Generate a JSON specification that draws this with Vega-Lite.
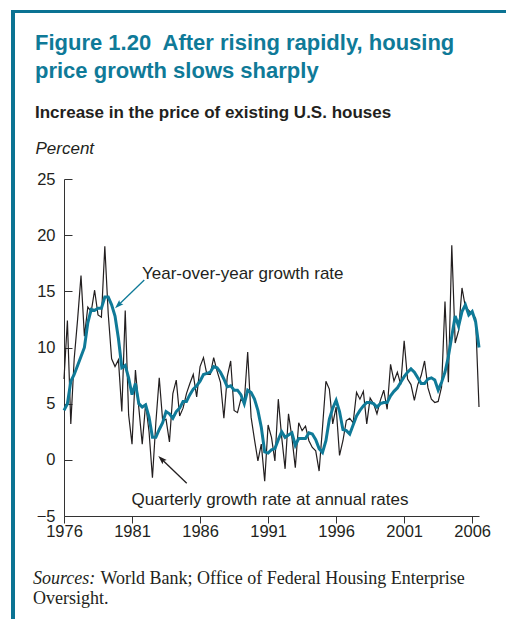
{
  "$schema": "https://vega.github.io/schema/vega-lite/v6.json",
  "padding": {"left": 11, "top": 10, "right": 0, "bottom": 0},
  "background": "white",
  "spacing": 0,
  "config": {
    "view": {"stroke": null},
    "font": "Liberation Sans",
    "axis": {"grid": false, "labelFont": "Liberation Sans", "labelFontSize": 16.5, "labelColor": "#231f20", "domainColor": "#333333", "tickColor": "#333333", "labelFlush": false, "labelOverlap": false}
  },
  "datasets": {
    "prices": [
      {"year": 1976, "q": 7.2, "yoy": 4.4},
      {"year": 1976.25, "q": 12.4, "yoy": 5.0},
      {"year": 1976.5, "q": 3.2, "yoy": 7.0},
      {"year": 1976.75, "q": 9.0, "yoy": 7.6},
      {"year": 1977, "q": 12.5, "yoy": 8.4},
      {"year": 1977.25, "q": 16.4, "yoy": 9.2},
      {"year": 1977.5, "q": 11.0, "yoy": 10.0},
      {"year": 1977.75, "q": 13.6, "yoy": 12.2},
      {"year": 1978, "q": 13.2, "yoy": 13.4},
      {"year": 1978.25, "q": 15.1, "yoy": 13.3},
      {"year": 1978.5, "q": 12.9, "yoy": 13.5},
      {"year": 1978.75, "q": 12.7, "yoy": 13.5},
      {"year": 1979, "q": 19.0, "yoy": 14.5},
      {"year": 1979.25, "q": 13.0, "yoy": 14.5},
      {"year": 1979.5, "q": 9.0, "yoy": 13.8},
      {"year": 1979.75, "q": 8.3, "yoy": 12.8},
      {"year": 1980, "q": 8.9, "yoy": 10.8},
      {"year": 1980.25, "q": 4.3, "yoy": 8.2},
      {"year": 1980.5, "q": 13.3, "yoy": 8.4},
      {"year": 1980.75, "q": 4.0, "yoy": 7.3},
      {"year": 1981, "q": 1.4, "yoy": 5.8},
      {"year": 1981.25, "q": 8.0, "yoy": 6.8},
      {"year": 1981.5, "q": 4.6, "yoy": 5.0},
      {"year": 1981.75, "q": 1.4, "yoy": 4.7},
      {"year": 1982, "q": 5.0, "yoy": 4.9},
      {"year": 1982.25, "q": 2.5, "yoy": 3.8},
      {"year": 1982.5, "q": -1.6, "yoy": 2.0},
      {"year": 1982.75, "q": 3.3, "yoy": 2.0},
      {"year": 1983, "q": 7.3, "yoy": 2.7},
      {"year": 1983.25, "q": 3.5, "yoy": 3.3},
      {"year": 1983.5, "q": 3.6, "yoy": 4.3},
      {"year": 1983.75, "q": 1.6, "yoy": 4.1},
      {"year": 1984, "q": 5.9, "yoy": 3.7},
      {"year": 1984.25, "q": 7.1, "yoy": 4.3},
      {"year": 1984.5, "q": 3.9, "yoy": 4.6},
      {"year": 1984.75, "q": 4.6, "yoy": 5.2},
      {"year": 1985, "q": 5.9, "yoy": 5.2},
      {"year": 1985.25, "q": 6.8, "yoy": 5.8},
      {"year": 1985.5, "q": 7.6, "yoy": 6.3},
      {"year": 1985.75, "q": 5.6, "yoy": 6.6},
      {"year": 1986, "q": 8.3, "yoy": 7.0},
      {"year": 1986.25, "q": 9.1, "yoy": 7.6},
      {"year": 1986.5, "q": 7.6, "yoy": 7.7},
      {"year": 1986.75, "q": 7.6, "yoy": 7.8},
      {"year": 1987, "q": 9.1, "yoy": 8.3},
      {"year": 1987.25, "q": 7.9, "yoy": 8.2},
      {"year": 1987.5, "q": 6.9, "yoy": 7.8},
      {"year": 1987.75, "q": 3.7, "yoy": 7.2},
      {"year": 1988, "q": 7.4, "yoy": 6.5},
      {"year": 1988.25, "q": 8.8, "yoy": 6.6},
      {"year": 1988.5, "q": 4.4, "yoy": 6.2},
      {"year": 1988.75, "q": 4.2, "yoy": 6.2},
      {"year": 1989, "q": 5.4, "yoy": 5.8},
      {"year": 1989.25, "q": 5.2, "yoy": 5.0},
      {"year": 1989.5, "q": 9.6, "yoy": 6.2},
      {"year": 1989.75, "q": 3.8, "yoy": 6.0},
      {"year": 1990, "q": 1.8, "yoy": 5.4},
      {"year": 1990.25, "q": -0.1, "yoy": 4.4},
      {"year": 1990.5, "q": 1.4, "yoy": 2.9},
      {"year": 1990.75, "q": -1.9, "yoy": 0.7},
      {"year": 1991, "q": 3.1, "yoy": 0.6},
      {"year": 1991.25, "q": 2.0, "yoy": 0.9},
      {"year": 1991.5, "q": -0.1, "yoy": 1.0},
      {"year": 1991.75, "q": 5.4, "yoy": 1.8},
      {"year": 1992, "q": 2.0, "yoy": 2.5},
      {"year": 1992.25, "q": -0.8, "yoy": 2.0},
      {"year": 1992.5, "q": 4.1, "yoy": 2.2},
      {"year": 1992.75, "q": 2.0, "yoy": 2.4},
      {"year": 1993, "q": -0.7, "yoy": 1.3},
      {"year": 1993.25, "q": 3.3, "yoy": 1.9},
      {"year": 1993.5, "q": 2.6, "yoy": 1.9},
      {"year": 1993.75, "q": 3.0, "yoy": 1.9},
      {"year": 1994, "q": 1.7, "yoy": 2.4},
      {"year": 1994.25, "q": 1.1, "yoy": 2.3},
      {"year": 1994.5, "q": 0.8, "yoy": 1.8},
      {"year": 1994.75, "q": -1.0, "yoy": 1.0},
      {"year": 1995, "q": 2.9, "yoy": 0.65},
      {"year": 1995.25, "q": 7.0, "yoy": 1.7},
      {"year": 1995.5, "q": 6.3, "yoy": 3.6},
      {"year": 1995.75, "q": 3.2, "yoy": 4.6},
      {"year": 1996, "q": 4.7, "yoy": 5.3},
      {"year": 1996.25, "q": 0.4, "yoy": 4.3},
      {"year": 1996.5, "q": 1.7, "yoy": 2.7},
      {"year": 1996.75, "q": 3.5, "yoy": 2.6},
      {"year": 1997, "q": 3.7, "yoy": 2.3},
      {"year": 1997.25, "q": 3.3, "yoy": 3.1},
      {"year": 1997.5, "q": 6.0, "yoy": 3.9},
      {"year": 1997.75, "q": 5.4, "yoy": 4.4},
      {"year": 1998, "q": 6.1, "yoy": 4.8},
      {"year": 1998.25, "q": 3.2, "yoy": 5.1},
      {"year": 1998.5, "q": 5.5, "yoy": 5.1},
      {"year": 1998.75, "q": 5.0, "yoy": 5.0},
      {"year": 1999, "q": 4.1, "yoy": 4.7},
      {"year": 1999.25, "q": 5.3, "yoy": 5.0},
      {"year": 1999.5, "q": 6.2, "yoy": 5.1},
      {"year": 1999.75, "q": 4.5, "yoy": 5.1},
      {"year": 2000, "q": 8.5, "yoy": 5.7},
      {"year": 2000.25, "q": 7.0, "yoy": 6.1},
      {"year": 2000.5, "q": 7.8, "yoy": 6.4},
      {"year": 2000.75, "q": 6.7, "yoy": 6.9},
      {"year": 2001, "q": 10.6, "yoy": 7.4},
      {"year": 2001.25, "q": 7.2, "yoy": 7.8},
      {"year": 2001.5, "q": 6.7, "yoy": 8.1},
      {"year": 2001.75, "q": 5.3, "yoy": 7.8},
      {"year": 2002, "q": 6.7, "yoy": 7.3},
      {"year": 2002.25, "q": 7.5, "yoy": 6.8},
      {"year": 2002.5, "q": 8.8, "yoy": 6.8},
      {"year": 2002.75, "q": 6.4, "yoy": 7.2},
      {"year": 2003, "q": 5.4, "yoy": 7.3},
      {"year": 2003.25, "q": 5.1, "yoy": 7.1},
      {"year": 2003.5, "q": 5.2, "yoy": 6.2},
      {"year": 2003.75, "q": 6.5, "yoy": 6.9},
      {"year": 2004, "q": 14.1, "yoy": 7.8},
      {"year": 2004.25, "q": 6.9, "yoy": 9.2},
      {"year": 2004.5, "q": 19.1, "yoy": 11.0},
      {"year": 2004.75, "q": 10.4, "yoy": 12.8},
      {"year": 2005, "q": 11.5, "yoy": 11.9},
      {"year": 2005.25, "q": 15.3, "yoy": 13.2},
      {"year": 2005.5, "q": 13.6, "yoy": 13.8},
      {"year": 2005.75, "q": 13.3, "yoy": 12.9},
      {"year": 2006, "q": 13.0, "yoy": 13.2},
      {"year": 2006.25, "q": 12.6, "yoy": 12.3},
      {"year": 2006.5, "q": 4.7, "yoy": 10.0}
    ]
  },
  "hconcat": [
    {"width": 4, "height": 609, "view": {"fill": "#0b7393", "stroke": null}, "data": {"values": []}, "mark": "rule", "encoding": {}},
    {
      "spacing": 166,
      "bounds": "flush",
      "vconcat": [
        {"width": 491, "height": 3, "view": {"fill": "#0b7393", "stroke": null}, "data": {"values": []}, "mark": "rule", "encoding": {}},
        {
          "spacing": 0,
          "bounds": "flush",
          "hconcat": [
            {"width": 49, "height": 337, "data": {"values": []}, "mark": "rule", "encoding": {}},
            {
              "width": 415,
              "height": 337,
              "title": {
                "text": ["Figure 1.20\u00a0 After rising rapidly, housing", "price growth slows sharply"],
                "subtitle": "Increase in the price of existing U.S. houses",
                "anchor": "start",
                "frame": "group",
                "dx": -29,
                "font": "Liberation Sans",
                "fontSize": 22,
                "fontWeight": "bold",
                "color": "#0f7a98",
                "lineHeight": 28,
                "subtitleFont": "Liberation Sans",
                "subtitleFontSize": 17,
                "subtitleFontWeight": "bold",
                "subtitleColor": "#231f20",
                "subtitlePadding": 22,
                "offset": 17
              },
              "data": {"name": "prices"},
              "layer": [
                {
                  "mark": {"type": "line", "color": "#231f20", "strokeWidth": 1.2},
                  "encoding": {
                    "x": {"field": "year", "type": "quantitative", "scale": {"domain": [1976, 2006.5], "nice": false, "zero": false},
                          "axis": {"values": [1976, 1981, 1986, 1991, 1996, 2001, 2006], "format": "d", "title": null, "tickSize": 7, "labelPadding": 0}},
                    "y": {"field": "q", "type": "quantitative", "scale": {"domain": [-5, 25], "nice": false, "zero": false},
                          "axis": {"values": [-5, 0, 5, 10, 15, 20, 25], "tickSize": -8, "labelPadding": 17, "title": "Percent", "titleAngle": 0, "titleAlign": "left", "titleBaseline": "middle", "titleX": -29, "titleY": -31, "titleFont": "Liberation Sans", "titleFontStyle": "italic", "titleFontWeight": "normal", "titleFontSize": 17, "titleColor": "#231f20"}}
                  }
                },
                {
                  "mark": {"type": "line", "color": "#0f7a98", "strokeWidth": 3},
                  "encoding": {
                    "x": {"field": "year", "type": "quantitative"},
                    "y": {"field": "yoy", "type": "quantitative", "axis": {"title": "Percent"}}
                  }
                },
                {
                  "data": {"values": [{}]},
                  "mark": {"type": "rule", "color": "#0f7a98", "strokeWidth": 1.3},
                  "encoding": {"x": {"datum": 1981.9}, "y": {"datum": 16.01}, "x2": {"datum": 1980.04}, "y2": {"datum": 13.83}}
                },
                {
                  "data": {"values": [{}]},
                  "mark": {"type": "point", "shape": "M0,-1L0.55,0.6L0,0.3L-0.55,0.6Z", "filled": true, "opacity": 1, "color": "#0f7a98", "size": 120, "angle": 226},
                  "encoding": {"x": {"datum": 1980.04}, "y": {"datum": 13.83}}
                },
                {
                  "data": {"values": [{}]},
                  "mark": {"type": "rule", "color": "#231f20", "strokeWidth": 1.3},
                  "encoding": {"x": {"datum": 1985.02}, "y": {"datum": -2.09}, "x2": {"datum": 1983.22}, "y2": {"datum": 0.0}}
                },
                {
                  "data": {"values": [{}]},
                  "mark": {"type": "point", "shape": "M0,-1L0.55,0.6L0,0.3L-0.55,0.6Z", "filled": true, "opacity": 1, "color": "#231f20", "size": 120, "angle": 314},
                  "encoding": {"x": {"datum": 1983.22}, "y": {"datum": 0.0}}
                },
                {
                  "data": {"values": [{}]},
                  "mark": {"type": "text", "text": "Year-over-year growth rate", "align": "left", "baseline": "alphabetic", "font": "Liberation Sans", "fontSize": 17, "color": "#231f20"},
                  "encoding": {"x": {"datum": 1981.73}, "y": {"datum": 16.07}}
                },
                {
                  "data": {"values": [{}]},
                  "mark": {"type": "text", "text": "Quarterly growth rate at annual rates", "align": "left", "baseline": "alphabetic", "font": "Liberation Sans", "fontSize": 17, "color": "#231f20"},
                  "encoding": {"x": {"datum": 1980.97}, "y": {"datum": -4.02}}
                },
                {
                  "data": {"values": [{}]},
                  "mark": {"type": "text", "text": "Sources:", "align": "left", "baseline": "alphabetic", "font": "Liberation Serif", "fontStyle": "italic", "fontSize": 18, "color": "#231f20", "dx": -31},
                  "encoding": {"x": {"datum": 1976}, "y": {"datum": -11.05}}
                },
                {
                  "data": {"values": [{}]},
                  "mark": {"type": "text", "text": "World Bank; Office of Federal Housing Enterprise", "align": "left", "baseline": "alphabetic", "font": "Liberation Serif", "fontSize": 18, "color": "#231f20", "dx": 36.5},
                  "encoding": {"x": {"datum": 1976}, "y": {"datum": -11.05}}
                },
                {
                  "data": {"values": [{}]},
                  "mark": {"type": "text", "text": "Oversight.", "align": "left", "baseline": "alphabetic", "font": "Liberation Serif", "fontSize": 18, "color": "#231f20", "dx": -31},
                  "encoding": {"x": {"datum": 1976}, "y": {"datum": -12.79}}
                }
              ]
            }
          ]
        }
      ]
    }
  ]
}
